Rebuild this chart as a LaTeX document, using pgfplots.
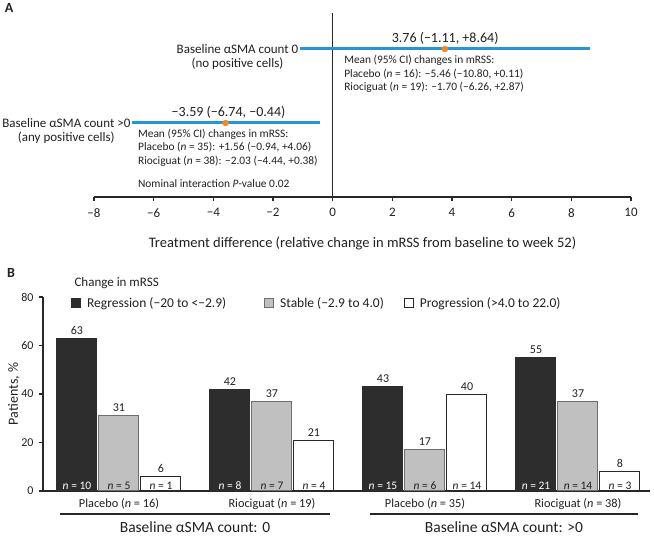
\documentclass[border=0pt]{standalone}
\usepackage{pgfplots}
\pgfplotsset{compat=1.18}
\usepackage{pgfplotstable}
\usepackage{fontspec}
\setmainfont{Carlito}

\definecolor{ciblue}{RGB}{38,150,210}
\definecolor{dotorange}{RGB}{240,140,40}
\definecolor{regdark}{RGB}{45,45,45}
\definecolor{stablegray}{RGB}{192,192,192}
\definecolor{stableedge}{RGB}{110,110,110}
\definecolor{axisgray}{RGB}{40,40,40}
\definecolor{txt}{RGB}{35,31,32}

\newcommand{\fs}[1]{\fontsize{#1}{#1}\selectfont}

% panel B data: x = group, pct = patients %, n = count
\pgfplotstableread{
x pct n
0 63 10
1 42 8
2 43 15
3 55 21
}\regtab
\pgfplotstableread{
x pct n
0 31 5
1 37 7
2 17 6
3 37 14
}\stabtab
\pgfplotstableread{
x pct n
0 6 1
1 21 4
2 40 14
3 8 3
}\progtab

\pgfplotsset{
  sqlegend/.style={legend image code/.code={\draw[##1] (0pt,-4.5pt) rectangle (9pt,4.5pt);}},
  pctbar/.style={ybar, bar width=40pt, bar shift=0pt, line width=1pt,
    nodes near coords, nodes near coords style={font=\fs{12}, text=txt}, sqlegend},
  nlabel/.style={forget plot, only marks, mark=none, point meta=explicit symbolic,
    nodes near coords={\textit{n} = \pgfplotspointmeta},
    nodes near coords style={font=\fs{11.5}, text=#1, anchor=south, inner sep=1.5pt}},
}

\begin{document}
\begin{tikzpicture}[every node/.style={text=txt}]
\useasboundingbox (0,0) rectangle (654pt,536pt);

\node[font=\fs{14}\bfseries] at (9pt,528pt) {A};
\node[font=\fs{14}\bfseries] at (11pt,263pt) {B};

% ---------------- panel A ----------------
\begin{axis}[
  at={(94pt,339pt)}, anchor=south west, scale only axis,
  width=537pt, height=184pt,
  xmin=-8, xmax=10, ymin=0, ymax=184,
  axis x line=bottom, axis y line=none,
  axis line style={-, line width=1.2pt, color=axisgray},
  xtick={-8,-6,...,10},
  xticklabels={−8,−6,−4,−2,0,2,4,6,8,10},
  tick align=outside, major tick length=4pt,
  tick style={line width=1.2pt, color=axisgray},
  xticklabel style={font=\fs{13}, yshift=-4pt},
  xlabel={Treatment difference (relative change in mRSS from baseline to week 52)},
  xlabel style={font=\fs{14.5}, at={(axis description cs:0.5,0)}, anchor=center, yshift=-46pt},
  clip=false,
]
  \addplot[axisgray, line width=1.5pt] coordinates {(0,0) (0,184)};

  % row 1: count 0
  \addplot[ciblue, line width=3pt] coordinates {(-1.11,148) (8.64,148)};
  \addplot[only marks, mark=*, mark size=3pt, dotorange] coordinates {(3.76,148)};
  % row 2: count >0
  \addplot[ciblue, line width=3pt] coordinates {(-6.74,74) (-0.44,74)};
  \addplot[only marks, mark=*, mark size=3pt, dotorange] coordinates {(-3.59,74)};

  \node[font=\fs{14}] at (axis cs:3.77,159) {3.76 (−1.11, +8.64)};
  \node[font=\fs{14}] at (axis cs:-3.49,85) {−3.59 (−6.74, −0.44)};

  \node[font=\fs{13}, anchor=east, inner sep=1pt] (r1) at (axis cs:-1.11,148) {Baseline αSMA count 0};
  \node[font=\fs{13}] at ([yshift=-15pt]r1.center) {(no positive cells)};
  \node[font=\fs{13}, anchor=east, inner sep=1pt] (r2) at (axis cs:-6.74,74) {Baseline αSMA count >0};
  \node[font=\fs{13}] at ([yshift=-15pt]r2.center) {(any positive cells)};

  \node[font=\fs{11.4}, anchor=west, align=left] at (axis cs:0.27,123)
    {Mean (95\% CI) changes in mRSS:\\[2pt]
     Placebo (\textit{n} = 16): −5.46 (−10.80, +0.11)\\[2pt]
     Riociguat (\textit{n} = 19): −1.70 (−6.26, +2.87)};
  \node[font=\fs{11.4}, anchor=west, align=left] at (axis cs:-6.64,49.5)
    {Mean (95\% CI) changes in mRSS:\\[2pt]
     Placebo (\textit{n} = 35): +1.56 (−0.94, +4.06)\\[2pt]
     Riociguat (\textit{n} = 38): −2.03 (−4.44, +0.38)};
  \node[font=\fs{11.4}, anchor=west] at (axis cs:-6.64,13) {Nominal interaction \textit{P}-value 0.02};
\end{axis}

% ---------------- panel B ----------------
\begin{axis}[
  at={(43pt,45pt)}, anchor=south west, scale only axis,
  width=607pt, height=194pt,
  xmin=-0.4967, xmax=3.4706, ymin=0, ymax=80,
  axis lines=left,
  axis line style={-, line width=1.2pt, color=axisgray},
  ytick={0,20,40,60,80}, xtick={0,1,2,3},
  xticklabels={Placebo (\textit{n} = 16), Riociguat (\textit{n} = 19), Placebo (\textit{n} = 35), Riociguat (\textit{n} = 38)},
  x tick style={draw=none}, y tick style={line width=1.2pt, color=axisgray},
  tick align=outside, major tick length=4pt,
  xticklabel style={font=\fs{12.3}},
  yticklabel style={font=\fs{12}, xshift=-2pt},
  /pgf/number format/assume math mode=true,
  ylabel={Patients, \%},
  every axis y label/.style={at={(axis description cs:-0.063,0.5)}, rotate=90, anchor=north, font=\fs{14}},
  clip=false,
  legend columns=3,
  legend style={draw=none, fill=none, inner sep=0pt, at={(axis description cs:0.046,0.969)}, anchor=west,
    font=\fs{13.5}, nodes={inner sep=1pt, text=txt},
    /tikz/every odd column/.append style={column sep=5pt},
    /tikz/column 2/.append style={column sep=37pt},
    /tikz/column 4/.append style={column sep=19pt}},
]
  \addplot[pctbar, fill=regdark, draw=regdark] table[x expr=\thisrow{x}-42/153, y=pct] {\regtab};
  \addlegendentry{Regression (−20 to <−2.9)}
  \addplot[pctbar, fill=stablegray, draw=stableedge] table[x=x, y=pct] {\stabtab};
  \addlegendentry{Stable (−2.9 to 4.0)}
  \addplot[pctbar, fill=white, draw=axisgray] table[x expr=\thisrow{x}+42/153, y=pct] {\progtab};
  \addlegendentry{Progression (>4.0 to 22.0)}

  % n labels at the foot of each bar
  \addplot[nlabel=white] table[x expr=\thisrow{x}-42/153, y expr=0, meta=n] {\regtab};
  \addplot[nlabel=txt] table[x=x, y expr=0, meta=n] {\stabtab};
  \addplot[nlabel=txt] table[x expr=\thisrow{x}+42/153, y expr=0, meta=n] {\progtab};
\end{axis}

\node[font=\fs{13}, anchor=west] at (71pt,253pt) {Change in mRSS};

% group underlines and labels
\draw[axisgray, line width=1.8pt] (60pt,22pt) -- (330pt,22pt);
\draw[axisgray, line width=1.8pt] (370pt,22pt) -- (638pt,22pt);
\node[font=\fs{15.5}] at (195pt,9pt) {Baseline αSMA count: 0};
\node[font=\fs{15.5}] at (504pt,9pt) {Baseline αSMA count: >0};
\end{tikzpicture}
\end{document}
